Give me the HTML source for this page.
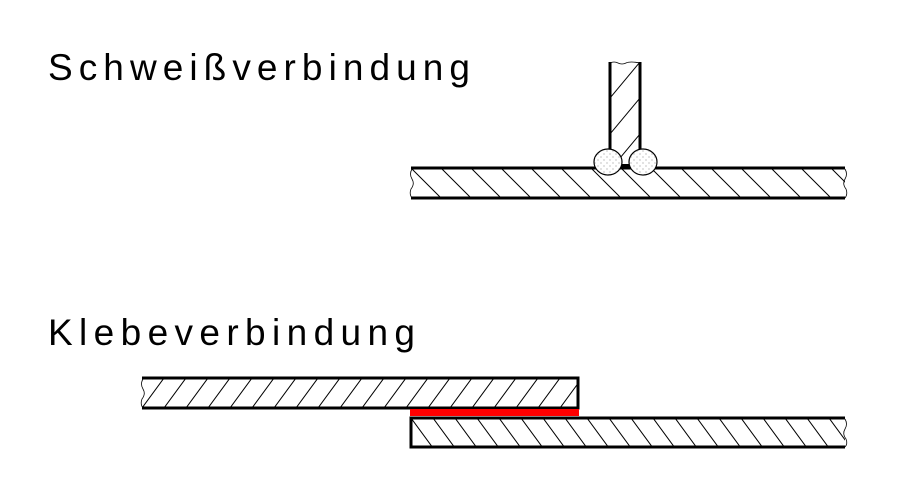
<!DOCTYPE html>
<html><head><meta charset="utf-8"><style>html,body{margin:0;padding:0;background:#fff}svg{display:block}</style></head>
<body>
<svg width="900" height="500" viewBox="0 0 900 500" xmlns="http://www.w3.org/2000/svg">
<defs>
<pattern id="hb" width="30" height="30" patternUnits="userSpaceOnUse" x="411" y="168"><path d="M0,0 L30,30 M-30,0 L0,30 M30,0 L60,30" stroke="#000" stroke-width="1"/></pattern>
<pattern id="hv" width="30" height="36" patternUnits="userSpaceOnUse" x="610" y="62"><path d="M0,36 L30,0" stroke="#000" stroke-width="1"/></pattern>
<pattern id="hf" width="22" height="30" patternUnits="userSpaceOnUse" x="142" y="378"><path d="M0,30 L22,0 M-22,30 L0,0 M22,30 L44,0" stroke="#000" stroke-width="1"/></pattern>
<pattern id="hb2" width="22" height="30" patternUnits="userSpaceOnUse" x="411" y="418"><path d="M0,0 L22,30 M-22,0 L0,30 M22,0 L44,30" stroke="#000" stroke-width="1"/></pattern>
<pattern id="dots" width="6" height="6" patternUnits="userSpaceOnUse"><circle cx="1" cy="1" r="0.5" fill="#666"/><circle cx="4" cy="4" r="0.5" fill="#666"/></pattern>
</defs>
<g font-family="Liberation Sans, sans-serif" font-size="37" fill="#000">
<text x="48" y="80" textLength="422" lengthAdjust="spacing">Schweißverbindung</text>
<text x="48" y="345" textLength="367" lengthAdjust="spacing">Klebeverbindung</text>
</g>
<rect x="411" y="168" width="434" height="30" fill="url(#hb)"/>
<line x1="411" y1="168" x2="845" y2="168" stroke="#000" stroke-width="3"/>
<line x1="411" y1="198" x2="845" y2="198" stroke="#000" stroke-width="3"/>
<path d="M412,169 q-3,5 0,10 q3,5 -1,10 q-2,5 1,9 M845,169 q3,5 0,10 q-3,5 1,10 q2,5 -1,9" fill="none" stroke="#000" stroke-width="0.8"/>
<rect x="610" y="62" width="30" height="100" fill="url(#hv)"/>
<line x1="610" y1="62" x2="610" y2="160" stroke="#000" stroke-width="3"/>
<line x1="640" y1="62" x2="640" y2="160" stroke="#000" stroke-width="3"/>
<path d="M610,63 q4,-2 8,0 q4,2 8,0 q4,-2 14,0" fill="none" stroke="#000" stroke-width="0.8"/>
<rect x="618" y="164" width="14" height="5" fill="#000"/>
<ellipse cx="608" cy="162" rx="14" ry="13" fill="#fff" stroke="#000" stroke-width="1.2"/>
<ellipse cx="608" cy="162" rx="14" ry="13" fill="url(#dots)"/>
<ellipse cx="643" cy="162" rx="14" ry="13" fill="#fff" stroke="#000" stroke-width="1.2"/>
<ellipse cx="643" cy="162" rx="14" ry="13" fill="url(#dots)"/>
<rect x="142" y="378" width="436" height="30" fill="url(#hf)"/>
<path d="M142,378 L578,378 L578,408 L142,408" fill="none" stroke="#000" stroke-width="3"/>
<path d="M143,379 q-3,5 0,10 q3,5 -1,10 q-2,5 1,9" fill="none" stroke="#000" stroke-width="0.8"/>
<rect x="410" y="409" width="169" height="7" fill="#f00"/>
<rect x="411" y="418" width="434" height="29" fill="url(#hb2)"/>
<path d="M845,418 L411,418 L411,447 L845,447" fill="none" stroke="#000" stroke-width="3"/>
<path d="M845,419 q3,5 0,10 q-3,5 1,10 q2,5 -1,8" fill="none" stroke="#000" stroke-width="0.8"/>
</svg>
</body></html>
